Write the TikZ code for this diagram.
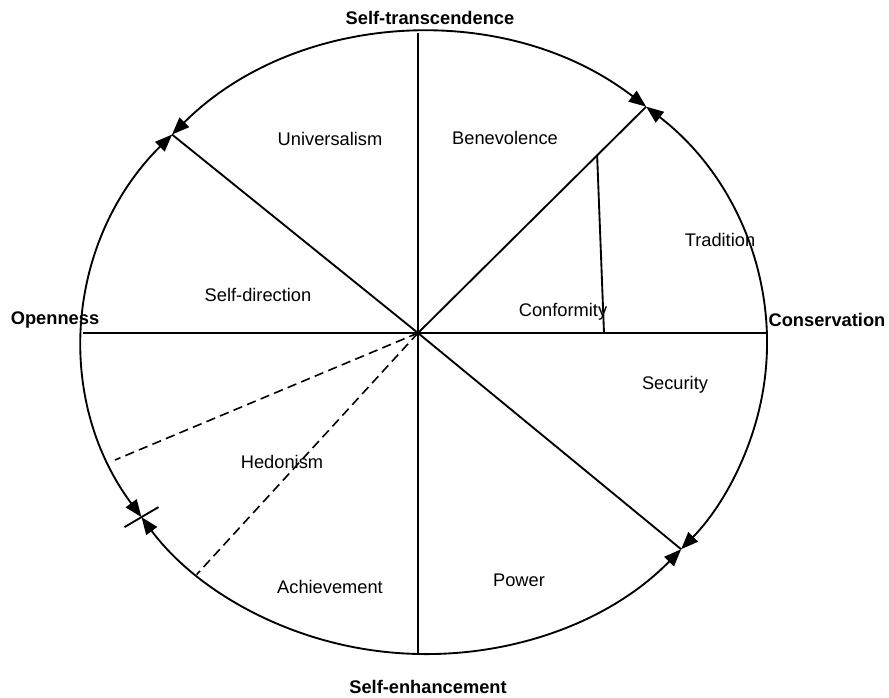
\documentclass[tikz,border=0pt]{standalone}
\usepackage{fontspec}
\setmainfont{Liberation Sans}
\usetikzlibrary{calc,arrows.meta}

\begin{document}
\begin{tikzpicture}[
      x=0.75pt, y=0.75pt,
      line width=1.4pt,
      >={Triangle[length=13pt, width=10pt]},
      rimit/.style={<->, line width=1.4pt},
      value/.style={inner sep=0pt, font=\fontsize{13.7}{16}\selectfont},
      pole/.style={value, font=\fontsize{13.7}{16}\selectfont\bfseries}
    ]
      \useasboundingbox (0,0) rectangle (889,697);

      % circle and its meeting points
      \coordinate (centre) at (425,353.5);
      \coordinate (hub) at (418,364);
      \coordinate (ur) at ($(centre)+(49.7:342 and 310.5)$);
      \coordinate (ul) at ($(centre)+(137.7:342 and 310.5)$);
      \coordinate (ll) at ($(centre)+(214:342 and 310.5)$);
      \coordinate (lr) at ($(centre)+(318.5:342 and 310.5)$);

      \draw[rimit] (ul) arc[start angle=137.7, end angle=49.7, x radius=342, y radius=310.5];
      \draw[rimit] (ur) arc[start angle=49.7, end angle=-41.5, x radius=342, y radius=310.5];
      \draw[rimit] (lr) arc[start angle=-41.5, end angle=-146, x radius=342, y radius=310.5];
      \draw[rimit] (ll) arc[start angle=214, end angle=137.7, x radius=342, y radius=310.5];

      % spokes
      \coordinate (top) at (418,664);
      \coordinate (bottom) at (418,43);
      \coordinate (left) at (83,364);
      \coordinate (right) at (767,364);
      \draw (top) -- (bottom);
      \draw (left) -- (right);
      \draw (hub) -- (ul);
      \draw (hub) -- (ur);
      \draw (hub) -- (lr);

      \coordinate (dashup) at (115,237);
      \coordinate (dashdown) at ($(centre)+(228.1:342 and 310.5)$);
      \draw[dash pattern=on 7pt off 4pt, line width=1.2pt] (hub) -- (dashup);
      \draw[dash pattern=on 7pt off 4pt, line width=1.2pt] (hub) -- (dashdown);

      \coordinate (conftop) at ($(hub)!0.785!(ur)$);
      \coordinate (confbottom) at (604,364);
      \draw (conftop) -- (confbottom);

      \draw ($(ll)+(-17,-10)$) -- ($(ll)+(17,10)$);

      % values
      \node[value] (universalism) at (330,558) {Universalism};
      \node[value] (benevolence) at (505,559) {Benevolence};
      \node[value] (tradition) at (720,457) {Tradition};
      \node[value] (selfdirection) at (258,402) {Self-direction};
      \node[value] (conformity) at (563,385) {Conformity};
      \node[value] (security) at (675,312) {Security};
      \node[value] (hedonism) at (282,235) {Hedonism};
      \node[value] (achievement) at (330,110) {Achievement};
      \node[value] (power) at (519,117) {Power};

      % poles
      \node[pole] (openness) at (55,377) {Openness};
      \node[pole] (conservation) at (827,377) {Conservation};
      \node[pole] (transcendence) at (430,679) {Self-transcendence};
      \node[pole] (enhancement) at (428,10) {Self-enhancement};
    \end{tikzpicture}
\end{document}
